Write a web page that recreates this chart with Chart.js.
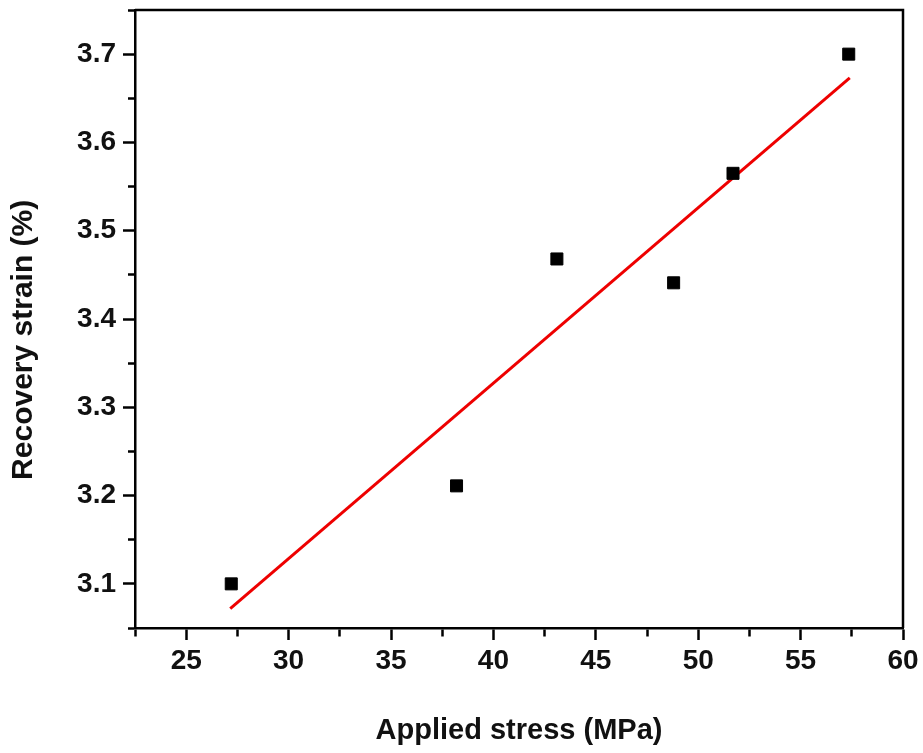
<!DOCTYPE html>
<html>
<head>
<meta charset="utf-8">
<script src="https://cdn.jsdelivr.net/npm/chart.js@4/dist/chart.umd.min.js"></script>
<style>
  html, body { margin: 0; padding: 0; background: #fff; }
  #wrap { width: 923px; height: 753px; }
</style>
</head>
<body>
<div id="wrap"><canvas id="chart"></canvas></div>
<script>
// measured points
const stress = [27.2, 38.2, 43.1, 48.8, 51.7, 57.35];
const strain = [3.10, 3.211, 3.468, 3.441, 3.565, 3.70];

// linear fit (red line) end points
const fitStress = [27.15, 57.4];
const fitStrain = [3.072, 3.673];

// axis ticks (majors get labels, the rest are minor ticks)
const xTickValues = [22.5, 25, 27.5, 30, 32.5, 35, 37.5, 40, 42.5, 45, 47.5, 50, 52.5, 55, 57.5, 60];
const yTickValues = [3.05, 3.1, 3.15, 3.2, 3.25, 3.3, 3.35, 3.4, 3.45, 3.5, 3.55, 3.6, 3.65, 3.7, 3.75];

const isMajorX = v => Math.abs(v % 5) < 1e-6;
const isMajorY = v => Math.round(v * 100) % 10 === 0;

const family = "'Liberation Sans', Arial, sans-serif";
const tickFont = { family, size: 28, weight: 'bold' };

// top and right frame lines
const framePlugin = {
  id: 'frame',
  afterDraw(chart) {
    const { ctx, chartArea: a } = chart;
    ctx.save();
    ctx.strokeStyle = '#000';
    ctx.lineWidth = 2.5;
    ctx.beginPath();
    ctx.moveTo(a.left, a.top);
    ctx.lineTo(a.right, a.top);
    ctx.lineTo(a.right, a.bottom);
    ctx.stroke();
    ctx.restore();
  }
};

const ctx = document.getElementById('chart').getContext('2d');

new Chart(ctx, {
  type: 'scatter',
  data: {
    datasets: [
      {
        label: 'Recovery strain',
        data: stress.map((x, i) => ({ x, y: strain[i] })),
        pointStyle: 'rect',
        pointRadius: 8.5,
        pointHoverRadius: 8.5,
        backgroundColor: '#000',
        borderColor: '#000',
        borderWidth: 1,
      },
      {
        label: 'Fit',
        data: fitStress.map((x, i) => ({ x, y: fitStrain[i] })),
        showLine: true,
        pointRadius: 0,
        borderColor: '#ee0000',
        borderWidth: 3,
        backgroundColor: 'transparent',
      },
    ],
  },
  options: {
    responsive: true,
    maintainAspectRatio: false,
    animation: false,
    layout: { padding: { top: 10, right: 20, left: 0, bottom: 0 } },
    plugins: {
      legend: { display: false },
      tooltip: { enabled: false },
    },
    scales: {
      x: {
        type: 'linear',
        min: 22.5,
        max: 60,
        afterBuildTicks: s => { s.ticks = xTickValues.map(v => ({ value: v })); },
        afterFit: s => { s.height = 125; s.paddingLeft = 0; s.paddingRight = 0; },
        border: { color: '#000', width: 2.5 },
        grid: {
          drawOnChartArea: false,
          tickLength: 12,
          tickWidth: 2.5,
          tickColor: '#000',
          tickBorderDash: c => (isMajorX(c.tick.value) ? [] : [7, 100]),
        },
        ticks: {
          autoSkip: false,
          maxRotation: 0,
          padding: 4,
          color: '#111',
          font: tickFont,
          callback: v => (isMajorX(v) ? String(v) : ''),
        },
        title: {
          display: true,
          text: 'Applied stress (MPa)',
          color: '#111',
          font: { family, size: 29, weight: 'bold' },
          padding: { top: 0, bottom: 5 },
        },
      },
      y: {
        type: 'linear',
        min: 3.05,
        max: 3.75,
        afterBuildTicks: s => { s.ticks = yTickValues.map(v => ({ value: v })); },
        afterFit: s => { s.width = 135; s.paddingTop = 0; s.paddingBottom = 0; },
        border: { color: '#000', width: 2.5 },
        grid: {
          drawOnChartArea: false,
          tickLength: 12,
          tickWidth: 2.5,
          tickColor: '#000',
          tickBorderDash: c => (isMajorY(c.tick.value) ? [] : [0, 5, 7, 100]),
        },
        ticks: {
          autoSkip: false,
          padding: 7,
          color: '#111',
          font: tickFont,
          callback: v => (isMajorY(v) ? v.toFixed(1) : ''),
        },
        title: {
          display: true,
          text: 'Recovery strain (%)     ',
          color: '#111',
          font: { family, size: 30, weight: 'bold' },
          padding: { top: 6, bottom: 0 },
        },
      },
    },
  },
  plugins: [framePlugin],
});
</script>
</body>
</html>
